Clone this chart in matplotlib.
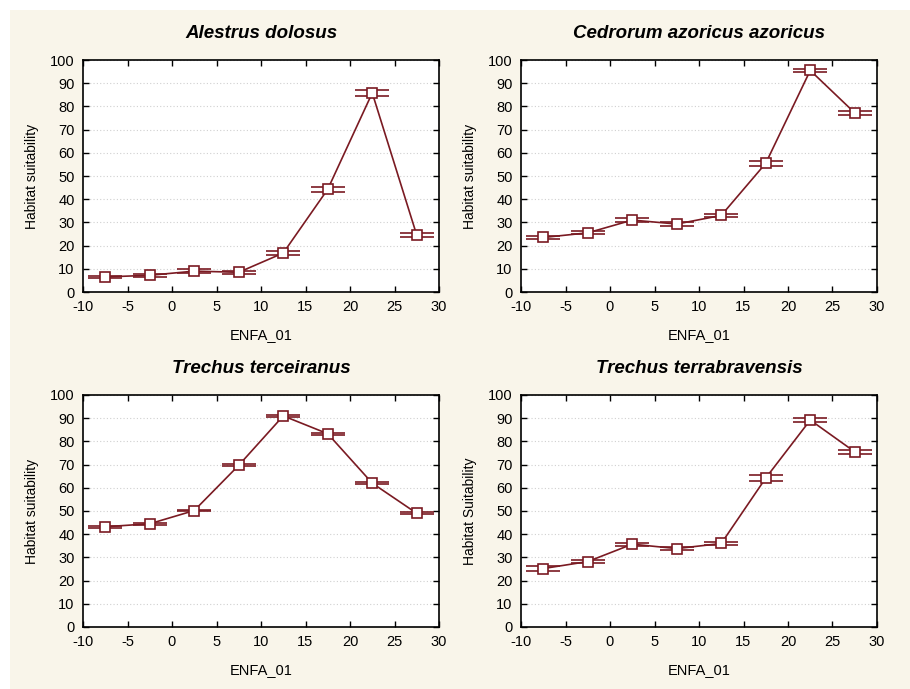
import matplotlib.pyplot as plt
from matplotlib.patches import Rectangle

# Data
enfa = [-7.5, -2.5, 2.5, 7.5, 12.5, 17.5, 22.5, 27.5]

titles = ['Alestrus dolosus', 'Cedrorum azoricus azoricus',
          'Trechus terceiranus', 'Trechus terrabravensis']
ylabels = ['Habitat suitability', 'Habitat suitability',
           'Habitat suitability', 'Habitat Suitability']

alestrus = [6.5, 7.2, 9.0, 8.5, 16.8, 44.3, 85.8, 24.5]
alestrus_err = [0.6, 0.6, 0.7, 0.7, 0.8, 1.0, 1.2, 0.8]

cedrorum = [23.5, 25.5, 31.0, 29.3, 33.0, 55.5, 95.5, 77.2]
cedrorum_err = [0.8, 0.7, 0.7, 0.7, 0.7, 1.0, 0.7, 1.0]

terceiranus = [43.2, 44.5, 50.2, 69.7, 91.0, 83.3, 62.0, 49.0]
terceiranus_err = [0.5, 0.4, 0.4, 0.4, 0.4, 0.4, 0.5, 0.4]

terrabravensis = [25.2, 28.2, 35.7, 33.8, 36.0, 64.2, 89.2, 75.5]
terrabravensis_err = [1.0, 0.8, 0.6, 0.6, 0.7, 1.3, 0.8, 0.8]

series = [alestrus, cedrorum, terceiranus, terrabravensis]
errors = [alestrus_err, cedrorum_err, terceiranus_err, terrabravensis_err]

plt.rcParams['font.family'] = ['Liberation Sans', 'DejaVu Sans']
plt.rcParams['axes.unicode_minus'] = False

line_col = '#7a1a22'
bg_col = '#f9f5ea'

fig = plt.figure(figsize=(9.1, 6.89), dpi=100)
fig.patch.set_facecolor('white')
fig.patches.append(Rectangle((10/910, 0), 1 - 10/910, 1 - 10/689,
                             transform=fig.transFigure, facecolor=bg_col,
                             edgecolor='none', zorder=-10))

# axes boxes in pixels: left, top
boxes = [(83, 60), (521, 60), (83, 395), (521, 395)]
W, H = 356, 232

for i in range(4):
    x0, y0 = boxes[i]
    ax = fig.add_axes([x0/910, (689 - y0 - H)/689, W/910, H/689])
    ax.set_facecolor('white')
    ax.errorbar(enfa, series[i], yerr=errors[i], color=line_col, lw=1.2,
                marker='s', markersize=6.5, markerfacecolor='white',
                markeredgecolor=line_col, markeredgewidth=1.2,
                capsize=12, capthick=1.6, elinewidth=1.2)
    ax.set_xlim(-10, 30)
    ax.set_ylim(0, 100)
    ax.set_xticks(range(-10, 31, 5))
    ax.set_yticks(range(0, 101, 10))
    ax.tick_params(direction='in', length=4, width=1, top=True, right=True,
                   labelsize=10.5, pad=6)
    ax.yaxis.grid(True, linestyle=(0, (1, 2)), color='#d0d0d0', lw=0.8)
    ax.set_axisbelow(True)
    for s in ax.spines.values():
        s.set_linewidth(1.2)
    ax.set_title(titles[i], fontsize=13.5, fontweight='bold', style='italic', pad=16)
    ax.set_xlabel('ENFA_01', fontsize=10.5, labelpad=10)
    ax.set_ylabel(ylabels[i], fontsize=10, labelpad=8)

fig.savefig('out.png', dpi=100, facecolor=fig.get_facecolor())
